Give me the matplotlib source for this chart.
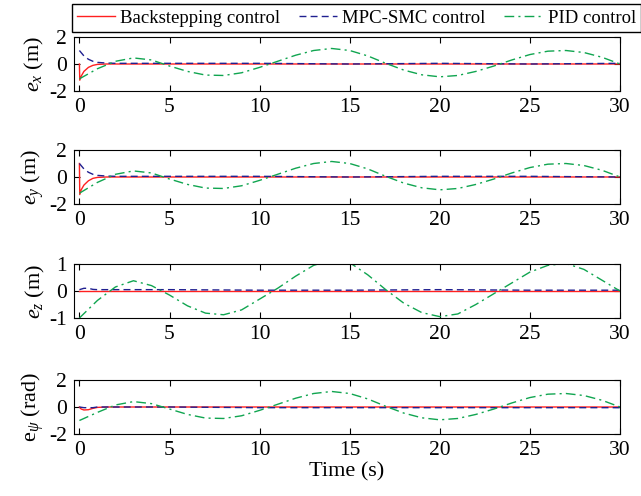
import numpy as np
import matplotlib.pyplot as plt

plt.rcParams['font.family'] = 'Liberation Serif'
plt.rcParams['mathtext.fontset'] = 'custom'
plt.rcParams['mathtext.rm'] = 'Liberation Serif'
plt.rcParams['mathtext.it'] = 'Liberation Serif:italic'
plt.rcParams['axes.unicode_minus'] = False

# PID control, sampled every 1 s
t_pid = list(range(31))
pid_x = [-1.1, -0.35, 0.2, 0.45, 0.3, -0.15, -0.55, -0.82, -0.85, -0.65, -0.25,
         0.2, 0.65, 1.0, 1.15, 1.0, 0.6, 0.05, -0.45, -0.8, -0.95,
         -0.85, -0.55, -0.15, 0.3, 0.7, 0.95, 1.0, 0.85, 0.5, 0.0]
pid_y = [-1.2, -0.4, 0.2, 0.45, 0.3, -0.15, -0.55, -0.82, -0.85, -0.65, -0.25,
         0.2, 0.65, 1.0, 1.15, 1.0, 0.6, 0.05, -0.45, -0.8, -0.95,
         -0.85, -0.55, -0.15, 0.3, 0.7, 0.95, 1.0, 0.85, 0.5, 0.0]
pid_z = [-1.0, -0.35, 0.15, 0.38, 0.2, -0.15, -0.55, -0.82, -0.88, -0.7, -0.3,
         0.1, 0.55, 0.95, 1.15, 1.05, 0.6, 0.05, -0.45, -0.8, -0.95,
         -0.85, -0.5, -0.1, 0.3, 0.7, 0.95, 1.02, 0.8, 0.4, 0.0]
pid_psi = [-1.0, -0.4, 0.15, 0.4, 0.25, -0.15, -0.55, -0.82, -0.85, -0.65, -0.25,
           0.2, 0.65, 1.0, 1.15, 1.0, 0.6, 0.05, -0.45, -0.8, -0.95,
           -0.85, -0.55, -0.15, 0.3, 0.7, 0.95, 1.0, 0.85, 0.5, 0.0]

# Backstepping control
t_bs = [0, 0.02, 0.1, 0.25, 0.5, 0.75, 1.0, 1.5, 5, 10, 15, 20, 25, 30]
bs_x = [0.0, -1.2, -0.9, -0.55, -0.25, -0.1, -0.03, 0.0, 0.0, 0.0, 0.0, 0.0, 0.0, 0.0]
bs_y = [1.0, -1.3, -0.95, -0.6, -0.28, -0.1, -0.03, 0.0, 0.0, 0.0, 0.0, 0.0, 0.0, 0.0]
bs_z = [0.0, 0.0, 0.0, 0.0, 0.0, 0.0, 0.0, 0.0, 0.0, 0.0, 0.0, 0.0, 0.0, 0.0]
bs_psi = [0.0, -0.05, -0.15, -0.22, -0.2, -0.1, -0.03, 0.0, 0.0, 0.0, 0.0, 0.0, 0.0, 0.0]

# MPC-SMC control
t_mpc = [0, 0.25, 0.5, 0.75, 1.0, 1.5, 2, 5, 10, 15, 20, 25, 30]
mpc_x = [1.0, 0.6, 0.35, 0.2, 0.12, 0.07, 0.05, 0.05, 0.05, 0.0, 0.05, 0.0, 0.05]
mpc_y = [1.0, 0.6, 0.35, 0.2, 0.12, 0.07, 0.05, 0.05, 0.05, 0.0, 0.05, 0.05, 0.0]
mpc_z = [0.05, 0.1, 0.1, 0.06, 0.05, 0.05, 0.05, 0.05, 0.03, 0.03, 0.05, 0.03, 0.03]
mpc_psi = [0.0, -0.05, -0.05, -0.05, 0.0, 0.0, 0.0, 0.0, -0.05, -0.05, -0.05, -0.05, -0.05]

ylabels = ['$e_x$ (m)', '$e_y$ (m)', '$e_z$ (m)', r'e$_\psi$ (rad)']
ylims = [(-2, 2), (-2, 2), (-1, 1), (-2, 2)]
yticks = [[-2, 0, 2], [-2, 0, 2], [-1, 0, 1], [-2, 0, 2]]
pid = [pid_x, pid_y, pid_z, pid_psi]
bs = [bs_x, bs_y, bs_z, bs_psi]
mpc = [mpc_x, mpc_y, mpc_z, mpc_psi]

red = '#ff2020'
blue = '#202090'
green = '#10a550'

fig = plt.figure(figsize=(6.41, 4.96), dpi=100)
W, H = 641, 496
tops = [37, 150, 264, 380]
h = 54
left, right = 74, 620

for i in range(4):
    ax = fig.add_axes([left / W, 1 - (tops[i] + h) / H, (right - left) / W, h / H])
    l1, = ax.plot(t_bs, bs[i], '-', color=red, lw=1.0, label='Backstepping control')
    l2, = ax.plot(t_mpc, mpc[i], '--', color=blue, lw=1.0, dashes=(5, 3),
                  label='MPC-SMC control')
    l3, = ax.plot(t_pid, pid[i], '-.', color=green, lw=1.0, dashes=(7, 3, 1.5, 3),
                  label='PID control')
    ax.set_xlim(-0.3, 30)
    ax.set_ylim(*ylims[i])
    ax.set_yticks(yticks[i])
    ax.set_xticks([0, 5, 10, 15, 20, 25, 30])
    ax.tick_params(direction='in', top=True, right=True, labelsize=15.5, length=4, pad=5)
    ax.set_ylabel(ylabels[i], fontsize=16, labelpad=2)
    for s in ax.spines.values():
        s.set_linewidth(0.8)
    if i == 3:
        ax.set_xlabel('Time (s)', fontsize=16, labelpad=2)

fig.legend(handles=[l1, l2, l3], loc='center', ncol=3,
           bbox_to_anchor=((73 + 640) / 2 / W, 1 - 18 / H),
           fontsize=13.5, frameon=True, fancybox=False, edgecolor='black',
           framealpha=1, handlelength=2.0, handletextpad=0.3, columnspacing=1.0,
           borderaxespad=0, borderpad=0.3)

fig.savefig('out.png', dpi=100)
